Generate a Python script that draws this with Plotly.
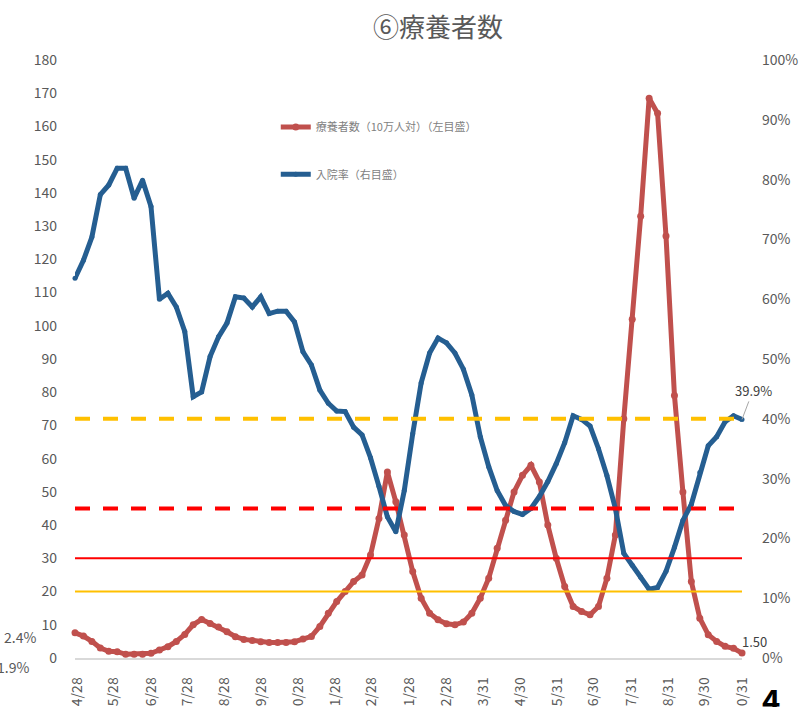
import plotly.graph_objects as go
import pandas as pd

# ---------------- data ----------------
start_date = "2020-04-26"          # weekly points (Sundays)
ryoyo = [  # 療養者数（10万人対） left axis
    7.6, 6.6, 5.0, 3.0, 2.0, 1.9, 1.1, 1.1, 1.1, 1.4,
    2.4, 3.4, 5.0, 7.1, 10.0, 11.6, 10.4, 9.3, 7.9, 6.4,
    5.6, 5.3, 4.9, 4.7, 4.7, 4.7, 4.9, 5.7, 6.5, 9.5,
    13.5, 17.0, 20.0, 23.0, 25.0, 31.0, 42.0, 56.0, 47.0, 37.0,
    26.0, 18.0, 13.5, 11.5, 10.3, 10.0, 10.8, 13.5, 18.0, 24.0,
    33.0, 41.5, 50.0, 55.0, 58.0, 53.0, 40.0, 30.0, 21.5, 15.5,
    14.0, 13.0, 15.5, 24.0, 37.0, 72.0, 102.0, 133.0, 168.5, 164.0,
    127.0, 79.0, 50.0, 23.0, 12.0, 7.0, 5.0, 3.5, 2.9, 1.5,
]
nyuin = [  # 入院率 (%) right axis
    63.5, 66.5, 70.4, 77.5, 79.1, 81.9, 81.9, 76.9, 79.9, 75.5,
    60.0, 61.0, 58.7, 54.6, 43.7, 44.5, 50.4, 53.7, 56.0, 60.4,
    60.2, 58.7, 60.4, 57.6, 58.0, 58.0, 56.2, 51.2, 49.0, 44.8,
    42.6, 41.3, 41.2, 38.6, 37.3, 33.5, 28.7, 23.6, 21.1, 28.0,
    37.5, 46.0, 51.0, 53.5, 52.7, 51.0, 48.3, 44.0, 37.0, 32.0,
    28.0, 25.5, 24.5, 24.0, 25.0, 27.0, 29.5, 32.5, 36.0, 40.5,
    39.9, 38.8, 35.0, 30.5, 25.0, 17.5, 15.5, 13.5, 11.5, 11.8,
    14.5, 18.5, 23.0, 25.7, 31.0, 35.5, 37.0, 39.5, 40.5, 39.9,
]
tick_dates = [
    "2020-04-28", "2020-05-28", "2020-06-28", "2020-07-28", "2020-08-28",
    "2020-09-28", "2020-10-28", "2020-11-28", "2020-12-28", "2021-01-28",
    "2021-02-28", "2021-03-31", "2021-04-30", "2021-05-31", "2021-06-30",
    "2021-07-31", "2021-08-31", "2021-09-30", "2021-10-31",
]
tick_labels = [
    "4/28", "5/28", "6/28", "7/28", "8/28", "9/28", "10/28", "11/28", "12/28",
    "1/28", "2/28", "3/31", "4/30", "5/31", "6/30", "7/31", "8/31", "9/30", "10/31",
]
left_solid_thresholds = [20, 30]      # 療養者数 (left axis)
left_solid_colors = ["#ffc000", "#ff0000"]
right_dashed_thresholds = [25, 40]    # 入院率 % (right axis)
right_dashed_colors = ["#ff0000", "#ffc000"]

name_red = "療養者数（10万人対）（左目盛）"
name_blue = "入院率（右目盛）"
title_text = "⑥療養者数"

# ---------------- figure ----------------
FONT = "Noto Sans CJK JP"
GREY = "#595959"
RED = "#c0504d"
BLUE = "#255e91"

dates = pd.date_range(start_date, periods=len(ryoyo), freq="7D")

fig = go.Figure()
fig.add_trace(go.Scatter(
    x=dates, y=ryoyo, name=name_red, mode="lines+markers",
    line=dict(color=RED, width=5), marker=dict(size=7, color=RED),
    cliponaxis=False, legend="legend", showlegend=True,
))
fig.add_trace(go.Scatter(
    x=dates, y=nyuin, name=name_blue, mode="lines+markers", yaxis="y2",
    line=dict(color=BLUE, width=5), marker=dict(size=5, color=BLUE),
    cliponaxis=False, legend="legend2", showlegend=True,
))

shapes = []
for v, c in zip(left_solid_thresholds, left_solid_colors):
    shapes.append(dict(type="line", xref="x", yref="y", x0=dates[0], x1=dates[-1],
                       y0=v, y1=v, line=dict(color=c, width=2), layer="above"))
for v, c in zip(right_dashed_thresholds, right_dashed_colors):
    shapes.append(dict(type="line", xref="x", yref="y2", x0=dates[0], x1=dates[-1],
                       y0=v, y1=v, line=dict(color=c, width=4, dash="15px,13px"),
                       layer="above"))

annotations = [
    dict(x=dates[-1], y=nyuin[-1], xref="x", yref="y2", text=f"{nyuin[-1]:.1f}%",
         showarrow=True, arrowhead=0, arrowwidth=1, arrowcolor="#a6a6a6",
         ax=11, ay=-29, font=dict(family=FONT, size=13, color="#404040")),
    dict(x=dates[-1], y=ryoyo[-1], xref="x", yref="y", text=f"{ryoyo[-1]:.2f}",
         showarrow=False, xshift=12, yshift=12,
         font=dict(family=FONT, size=13, color="#404040")),
    # fragments of neighbouring content in the cropped page
    dict(x=(20 - 75) / 667, y=(658 - 637) / 598, xref="paper", yref="paper", text="2.4%",
         showarrow=False, xanchor="center", yanchor="middle",
         font=dict(family=FONT, size=14, color=GREY)),
    dict(x=(13 - 75) / 667, y=(658 - 667) / 598, xref="paper", yref="paper", text="1.9%",
         showarrow=False, xanchor="center", yanchor="middle",
         font=dict(family=FONT, size=14, color=GREY)),
    dict(x=(771 - 75) / 667, y=(658 - 698) / 598, xref="paper", yref="paper", text="<b>4</b>",
         showarrow=False, xanchor="center", yanchor="middle",
         font=dict(family=FONT, size=31, color="#000000")),
]

fig.update_layout(
    width=802, height=707,
    margin=dict(l=75, r=60, t=60, b=49, autoexpand=False),
    showlegend=True,
    paper_bgcolor="white", plot_bgcolor="white",
    font=dict(family=FONT, size=14, color=GREY),
    title=dict(text=title_text, x=0.546, xanchor="center", y=1 - 28 / 707, yanchor="middle",
               font=dict(family=FONT, size=26, color=GREY)),
    xaxis=dict(
        type="date", range=[dates[0], dates[-1]], automargin=False,
        tickvals=pd.to_datetime(tick_dates), ticktext=tick_labels, tickangle=-90,
        showgrid=False, zeroline=False, showline=True, linecolor="#d9d9d9", linewidth=1.5,
        ticks="", ticklabelstandoff=12, tickfont=dict(size=14, color=GREY),
    ),
    yaxis=dict(
        range=[0, 180], dtick=10, showgrid=False, zeroline=False, showline=False,
        automargin=False,
        ticks="", ticklabelstandoff=17, tickfont=dict(size=14, color=GREY),
    ),
    yaxis2=dict(
        range=[0, 100], dtick=10, ticksuffix="%", overlaying="y", side="right",
        showgrid=False, zeroline=False, showline=False, automargin=False,
        ticks="", ticklabelstandoff=19, tickfont=dict(size=14, color=GREY),
    ),
    legend=dict(x=0.301, y=0.912, xanchor="left", yanchor="top", bgcolor="rgba(0,0,0,0)",
                font=dict(family=FONT, size=11, color="#7f7f7f")),
    legend2=dict(x=0.301, y=0.833, xanchor="left", yanchor="top", bgcolor="rgba(0,0,0,0)",
                 font=dict(family=FONT, size=11, color="#7f7f7f")),
    shapes=shapes,
    annotations=annotations,
)

fig.write_html("out.html", config={"displayModeBar": False},
               post_script="document.body.style.margin='0';")
